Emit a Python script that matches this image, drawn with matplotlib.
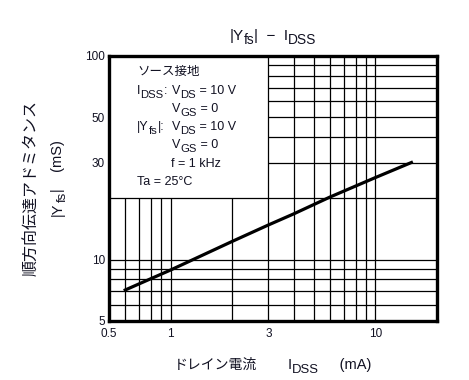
import matplotlib

matplotlib.use("Agg")
import matplotlib.pyplot as plt

# |Yfs| - IDSS curve
idss = [0.6, 1, 2, 3, 4, 6, 10, 15]
yfs = [7.1, 8.9, 12.3, 14.8, 16.8, 20.3, 25.3, 30.0]

x_ticks = [0.5, 1, 3, 10]
x_ticklabels = ["0.5", "1", "3", "10"]
y_ticks = [5, 10, 30, 50, 100]
y_ticklabels = ["5", "10", "30", "50", "100"]

# grid: full width below 20 mS, only right of 3 mA above it
v_low = [0.6, 0.7, 0.8, 0.9, 1, 2, 3, 4, 5, 6, 7, 8, 9, 10]
v_high = [3, 4, 5, 6, 7, 8, 9, 10]
h_full = [6, 7, 8, 9, 10, 20]
h_right = [30, 40, 50, 60, 70, 80, 90]

plt.rcParams["font.family"] = ["Liberation Sans", "Noto Sans CJK JP"]

TXT = "#111122"
W, H = 469, 380
fig = plt.figure(figsize=(W / 100, H / 100), dpi=100)
renderer = fig.canvas.get_renderer()


def rich(x, y, parts, size=9, rotation=0, ha="left"):
    """Text with real subscripts; x, y in pixels from top-left, y = baseline."""
    px = size * 100 / 72
    items = []
    for s, sub in parts:
        fs = size * 0.9 if sub else size
        t = fig.text(0, 0, s, fontsize=fs, color=TXT, ha="left", va="baseline",
                     rotation=rotation, rotation_mode="anchor")
        bb = t.get_window_extent(renderer)
        w = bb.width if rotation == 0 else bb.height
        items.append((t, w, px * 0.28 if sub else 0))
    total = sum(w for _, w, _ in items)
    pos = -total / 2 if ha == "center" else 0
    for t, w, drop in items:
        if rotation == 0:
            t.set_position(((x + pos) / W, 1 - (y + drop) / H))
        else:
            t.set_position(((x + drop) / W, 1 - (y - pos) / H))
        pos += w


ax = fig.add_axes([109 / W, 1 - 321 / H, (437 - 109) / W, (321 - 56) / H])
ax.set_xscale("log")
ax.set_yscale("log")
ax.set_xlim(0.5, 20)
ax.set_ylim(5, 100)

gkw = dict(color="black", linewidth=0.9, zorder=1)
ax.vlines(v_low, 5, 20, **gkw)
ax.vlines(v_high, 20, 100, **gkw)
ax.hlines(h_full, 0.5, 20, **gkw)
ax.hlines(h_right, 3, 20, **gkw)

ax.plot(idss, yfs, color="black", linewidth=2.3, zorder=3)

ax.set_xticks(x_ticks)
ax.set_xticklabels(x_ticklabels)
ax.set_yticks(y_ticks)
ax.set_yticklabels(y_ticklabels)
ax.minorticks_off()
ax.tick_params(length=0, labelsize=8.5, colors=TXT)
ax.tick_params(axis="x", pad=5)
ax.tick_params(axis="y", pad=3)
for s in ax.spines.values():
    s.set_linewidth(2.4)

# measurement conditions in the blank upper-left corner
fig.text(137 / W, 1 - 75 / H, "ソース接地", fontsize=9, color=TXT, va="baseline")
rich(137, 94, [("I", 0), ("DSS", 1), (":", 0)])
rich(172, 94, [("V", 0), ("DS", 1), (" = 10 V", 0)])
rich(172, 112, [("V", 0), ("GS", 1), (" = 0", 0)])
rich(137, 130, [("|Y", 0), ("fs", 1), ("|:", 0)])
rich(172, 130, [("V", 0), ("DS", 1), (" = 10 V", 0)])
rich(172, 148, [("V", 0), ("GS", 1), (" = 0", 0)])
rich(171, 167, [("f = 1 kHz", 0)])
rich(137, 185, [("Ta = 25°C", 0)])

rich(273, 40, [("|Y", 0), ("fs", 1), ("|  −  I", 0), ("DSS", 1)], size=11, ha="center")
fig.text(174 / W, 1 - 369 / H, "ドレイン電流", fontsize=10, color=TXT, va="baseline")
rich(288, 369, [("I", 0), ("DSS", 1), ("     (mA)", 0)], size=10.5)
fig.text(32 / W, 1 - 188 / H, "順方向伝達アドミタンス", fontsize=11.5, color=TXT,
         rotation=90, ha="center", va="center")
rich(62, 178, [("|Y", 0), ("fs", 1), ("|    (mS)", 0)], size=10.5, rotation=90, ha="center")

fig.savefig("out.png", dpi=100)
